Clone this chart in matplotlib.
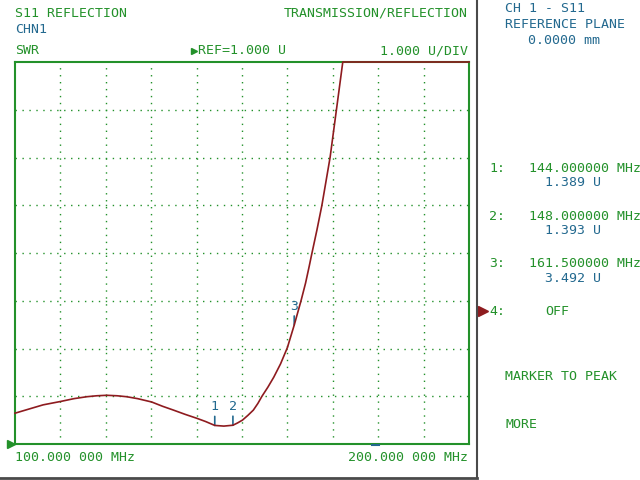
import matplotlib
matplotlib.use("Agg")
import matplotlib.pyplot as plt
from matplotlib.lines import Line2D

# trace (MHz, SWR units)
freq_mhz = [100, 103, 106.2, 110, 113, 115.8, 118, 120.2, 122.5, 124.6, 127,
            130.1, 132.5, 134.9, 137.5, 140, 142, 144, 146, 148, 149, 150.1,
            151.3, 152.5, 153.5, 154.4, 155.7, 157, 158.5, 160, 161.5, 163,
            164, 164.8, 165.3, 166.5, 167.6, 168.5, 169.4, 170.1, 170.8,
            171.5, 172.2, 180, 190, 200]
swr = [1.645, 1.73, 1.82, 1.89, 1.95, 1.99, 2.01, 2.02, 2.01, 1.99, 1.95,
       1.88, 1.79, 1.71, 1.62, 1.54, 1.47, 1.389, 1.375, 1.393, 1.44, 1.50,
       1.60, 1.71, 1.85, 2.0, 2.19, 2.40, 2.68, 3.02, 3.49, 4.0,
       4.37, 4.72, 4.95, 5.48, 6.0, 6.5, 7.0, 7.5, 8.0,
       8.5, 9.0, 9.0, 9.0, 9.0]

marker_ids = ["1", "2", "3"]
marker_freq = [144.0, 148.0, 161.5]
marker_val = [1.389, 1.393, 3.492]

ref_value = 1.0
per_div = 1.0
f_start, f_stop = 100.0, 200.0

GREEN = "#23912a"
BLUE = "#23698f"
RED = "#8e1b1f"
GRAY = "#4a4a4a"
W, H = 640, 480

fig = plt.figure(figsize=(6.4, 4.8), dpi=100)
fig.patch.set_facecolor("white")

def px(x, y):
    return x / W, 1 - y / H

def txt(x, y, s, color=GREEN, ha="left"):
    fx, fy = px(x, y)
    fig.text(fx, fy, s, color=color, ha=ha, va="baseline",
             family="DejaVu Sans Mono", fontsize=9.5)

# plot area
l, b = 15, 444
ax = fig.add_axes([l / W, 1 - b / H, (469 - l) / W, (b - 62) / H])
ax.set_xlim(f_start, f_stop)
ax.set_ylim(ref_value, ref_value + 8 * per_div)
ax.set_xticks([f_start + i * 10 for i in range(1, 10)])
ax.set_yticks([ref_value + i * per_div for i in range(1, 8)])
ax.tick_params(length=0, labelbottom=False, labelleft=False)
ax.grid(True, color=GREEN, linestyle=(0, (1, 4)), linewidth=1.0)
for s in ax.spines.values():
    s.set_color(GREEN)
    s.set_linewidth(1.5)

ax.plot(freq_mhz, swr, color=RED, lw=1.2, clip_on=False, zorder=5,
        solid_joinstyle="round")

# markers: small tick above the trace with number on top
for m, f, v in zip(marker_ids, marker_freq, marker_val):
    ax.annotate("", xy=(f, v), xytext=(0, 6.5), textcoords="offset points",
                arrowprops=dict(arrowstyle="-", color=BLUE, lw=1.2,
                                shrinkA=0, shrinkB=0))
    ax.annotate(m, xy=(f, v), xytext=(0, 9), textcoords="offset points",
                ha="center", va="bottom", color=BLUE,
                family="DejaVu Sans Mono", fontsize=9.5)

# header
txt(15, 17, "S11 REFLECTION")
txt(468, 17, "TRANSMISSION/REFLECTION", ha="right")
txt(15, 33, "CHN1", color=BLUE)
txt(15, 54, "SWR")
txt(198, 54, "REF=1.000 U")
txt(468, 54, "1.000 U/DIV", ha="right")
txt(15, 461, "100.000 000 MHz")
txt(468, 461, "200.000 000 MHz", ha="right")

# side panel
txt(505, 12, "CH 1 - S11", color=BLUE)
txt(505, 28, "REFERENCE PLANE", color=BLUE)
txt(528, 44, "0.0000 mm", color=BLUE)
rows = [(172, 186, "1:", "144.000000 MHz", "1.389 U"),
        (219.5, 234, "2:", "148.000000 MHz", "1.393 U"),
        (267, 282, "3:", "161.500000 MHz", "3.492 U")]
for y1, y2, k, fstr, vstr in rows:
    txt(489, y1, k)
    txt(529, y1, fstr)
    txt(545, y2, vstr, color=BLUE)
txt(489, 315, "4:")
txt(545, 315, "OFF")
txt(505, 380, "MARKER TO PEAK")
txt(505, 428, "MORE")

# little arrows and cursor
def mark(x, y, color, size):
    fx, fy = px(x, y)
    fig.add_artist(Line2D([fx], [fy], marker=">", color=color,
                          markersize=size, transform=fig.transFigure, lw=0))
mark(11, 444, GREEN, 6)
mark(194, 50.5, GREEN, 5)
mark(483, 311, RED, 7)
fig.add_artist(Line2D([372 / W, 379 / W], [1 - 445 / H] * 2, color=BLUE,
                      lw=1.5, transform=fig.transFigure))

# window frame
fig.add_artist(Line2D([477 / W] * 2, [1 - 478 / H, 1], color=GRAY, lw=1.5,
                      transform=fig.transFigure))
fig.add_artist(Line2D([0, 477 / W], [1 - 478 / H] * 2, color=GRAY, lw=2,
                      transform=fig.transFigure))

fig.savefig("out.png", dpi=100)
